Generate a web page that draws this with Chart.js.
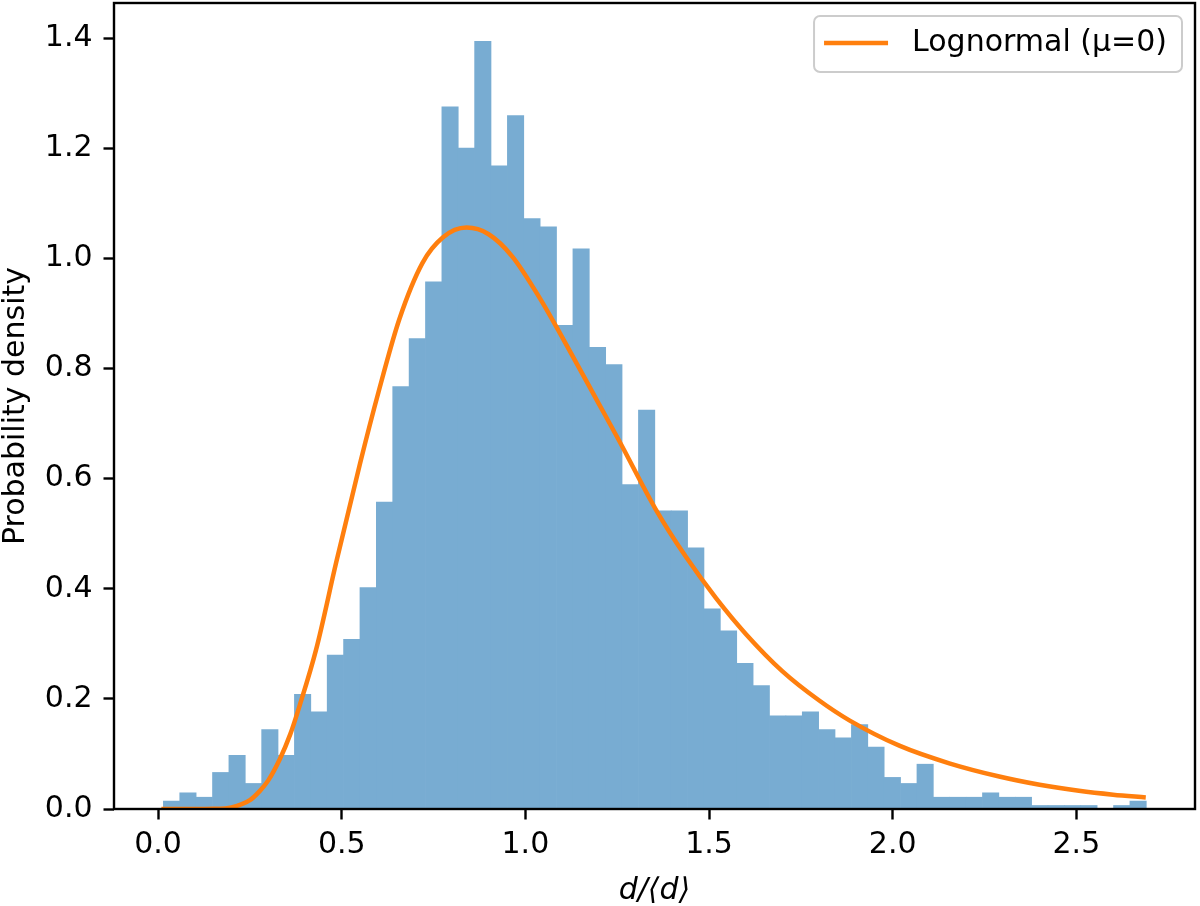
<!DOCTYPE html>
<html>
<head>
<meta charset="utf-8">
<script src="https://cdn.jsdelivr.net/npm/chart.js@4.4.1/dist/chart.umd.min.js"></script>
<style>
  html, body { margin: 0; padding: 0; background: #fff; }
  #wrap { width: 1200px; height: 906px; }
</style>
</head>
<body>
<div id="wrap"><canvas id="histChart"></canvas></div>
<script>
// Histogramm: 60 Klassen gleicher Breite
const binStart = 0.0144;
const binWidth = 0.0446;
const binHeights = [
  0.015, 0.030, 0.022, 0.067, 0.098, 0.047, 0.145, 0.098, 0.209, 0.177,
  0.280, 0.309, 0.403, 0.558, 0.768, 0.855, 0.958, 1.276, 1.201, 1.395,
  1.169, 1.260, 1.073, 1.058, 0.879, 1.018, 0.839, 0.808, 0.590, 0.725,
  0.542, 0.542, 0.475, 0.364, 0.324, 0.265, 0.225, 0.170, 0.170, 0.177,
  0.145, 0.130, 0.154, 0.113, 0.058, 0.047, 0.082, 0.022, 0.022, 0.022,
  0.030, 0.022, 0.022, 0.007, 0.007, 0.007, 0.007, 0.000, 0.007, 0.015
];

// Lognormal-Kurve, Punkte
const curveX = [0.009, 0.10, 0.15, 0.20, 0.25, 0.276, 0.30, 0.331, 0.36, 0.385,
  0.43, 0.485, 0.55, 0.60, 0.657, 0.72, 0.775, 0.84, 0.90, 0.965,
  1.04, 1.10, 1.20, 1.256, 1.356, 1.437, 1.519, 1.60, 1.70, 1.80,
  1.882, 2.018, 2.154, 2.29, 2.40, 2.507, 2.60, 2.689];
const curveY = [0.000, 0.000, 0.0003, 0.003, 0.016, 0.032, 0.052, 0.090, 0.136, 0.187,
  0.289, 0.448, 0.628, 0.757, 0.890, 0.992, 1.038, 1.056, 1.044, 1.003,
  0.927, 0.857, 0.736, 0.668, 0.543, 0.458, 0.383, 0.318, 0.250, 0.197,
  0.161, 0.115, 0.083, 0.059, 0.044, 0.033, 0.026, 0.021];

const xTicks = [0.0, 0.5, 1.0, 1.5, 2.0, 2.5];
const yTicks = [0.0, 0.2, 0.4, 0.6, 0.8, 1.0, 1.2, 1.4];

const curveLabel = 'Lognormal (\u03bc=0)';
const barColor = 'rgb(120,172,210)';
const lineColor = '#ff7f0e';
const fontFam = '"DejaVu Sans", sans-serif';

const histData = binHeights.map((h, i) => ({ x: binStart + (i + 0.5) * binWidth, y: h }));
const curveData = curveX.map((x, i) => ({ x: x, y: curveY[i] }));

// Rahmen (alle vier Achsenlinien) und Legende oben rechts
const rahmenPlugin = {
  id: 'rahmen',
  afterDatasetsDraw(chart) {
    const { ctx, chartArea: a } = chart;
    ctx.save();
    ctx.strokeStyle = '#000';
    ctx.lineWidth = 2.4;
    ctx.strokeRect(a.left, a.top, a.right - a.left, a.bottom - a.top);

    ctx.font = '30px ' + fontFam;
    const textW = ctx.measureText(curveLabel).width;
    const boxW = 10 + 64 + 24 + textW + 15;
    const boxH = 56;
    const boxR = a.right - 13;
    const boxT = a.top + 13;
    const boxL = boxR - boxW;
    ctx.beginPath();
    ctx.roundRect(boxL, boxT, boxW, boxH, 6);
    ctx.fillStyle = 'rgba(255,255,255,0.8)';
    ctx.fill();
    ctx.strokeStyle = '#cccccc';
    ctx.lineWidth = 2;
    ctx.stroke();

    const midY = boxT + 27;
    ctx.beginPath();
    ctx.moveTo(boxL + 10, midY);
    ctx.lineTo(boxL + 74, midY);
    ctx.strokeStyle = lineColor;
    ctx.lineWidth = 4.5;
    ctx.stroke();

    ctx.fillStyle = '#000';
    ctx.textBaseline = 'middle';
    ctx.textAlign = 'left';
    ctx.fillText(curveLabel, boxL + 98, midY);
    ctx.restore();
  }
};

const tickGrid = {
  display: true,
  drawOnChartArea: false,
  drawTicks: true,
  tickLength: 10.5,
  tickWidth: 2.4,
  tickColor: '#000',
  offset: false
};

new Chart(document.getElementById('histChart'), {
  type: 'bar',
  data: {
    datasets: [
      {
        type: 'line',
        label: curveLabel,
        data: curveData,
        borderColor: lineColor,
        borderWidth: 4.5,
        pointRadius: 0,
        fill: false,
        cubicInterpolationMode: 'monotone',
        order: 0
      },
      {
        type: 'bar',
        label: 'Histogramm',
        data: histData,
        backgroundColor: barColor,
        borderWidth: 0,
        barPercentage: 1.04,
        categoryPercentage: 1.0,
        order: 1
      }
    ]
  },
  options: {
    responsive: true,
    maintainAspectRatio: false,
    devicePixelRatio: 1,
    animation: false,
    layout: { padding: { top: 3, right: 5, left: 0, bottom: 0 } },
    plugins: { legend: { display: false }, tooltip: { enabled: false } },
    scales: {
      x: {
        type: 'linear',
        min: -0.120,
        max: 2.823,
        offset: false,
        grid: tickGrid,
        border: { display: false },
        afterBuildTicks: s => { s.ticks = xTicks.map(v => ({ value: v })); },
        afterFit: s => { s.height = 97; s.paddingLeft = 0; s.paddingRight = 0; },
        ticks: {
          padding: 8,
          color: '#000',
          font: { family: fontFam, size: 30 },
          maxRotation: 0,
          autoSkip: false,
          callback: v => Number(v).toFixed(1)
        },
        title: {
          display: true,
          text: 'd/\u27e8d\u27e9',
          color: '#000',
          font: { family: fontFam, size: 30, style: 'italic', lineHeight: 1 },
          padding: { top: 0, bottom: 0 }
        }
      },
      y: {
        type: 'linear',
        min: 0,
        max: 1.464,
        grid: tickGrid,
        border: { display: false },
        afterBuildTicks: s => { s.ticks = yTicks.map(v => ({ value: v })); },
        afterFit: s => { s.width = 114; s.paddingTop = 0; s.paddingBottom = 0; },
        ticks: {
          padding: 11,
          color: '#000',
          font: { family: fontFam, size: 30 },
          autoSkip: false,
          callback: v => Number(v).toFixed(1)
        },
        title: {
          display: true,
          text: 'Probability density',
          color: '#000',
          font: { family: fontFam, size: 30, lineHeight: 1 },
          padding: { top: 1, bottom: 0 }
        }
      }
    }
  },
  plugins: [rahmenPlugin]
});
</script>
</body>
</html>
